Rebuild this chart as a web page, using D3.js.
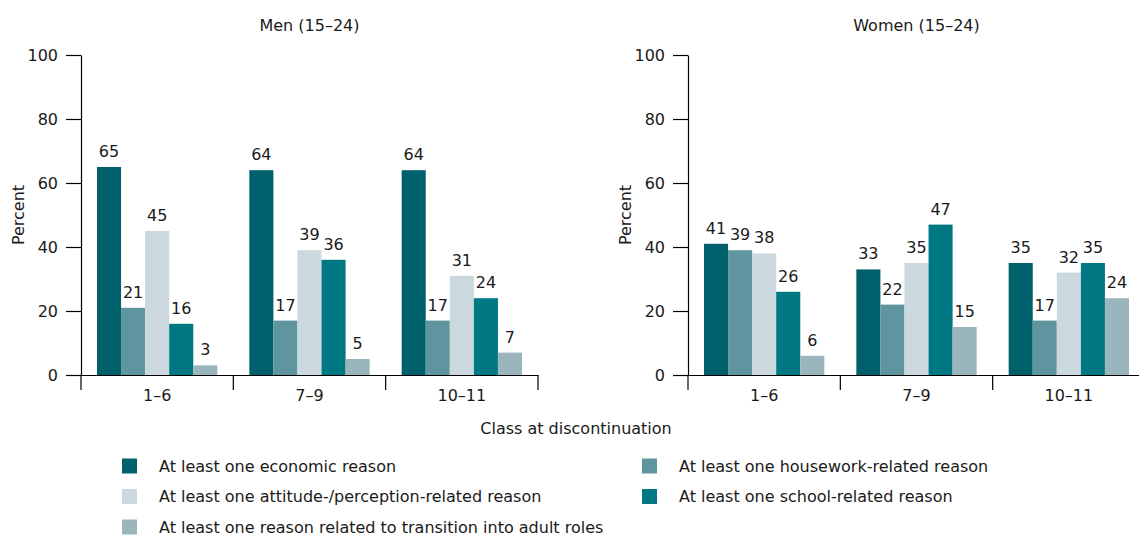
<!DOCTYPE html>
<html><head><meta charset="utf-8">
<script src="https://cdn.jsdelivr.net/npm/d3@7"></script>
<style>
body{margin:0;background:#fff;}
text{font-family:"DejaVu Sans",sans-serif;fill:#1a1a1a;}
</style></head>
<body><svg id="chart" width="1139" height="537"></svg>
<script>
const categories = ["1–6", "7–9", "10–11"];
const seriesNames = [
  "At least one economic reason",
  "At least one housework-related reason",
  "At least one attitude-/perception-related reason",
  "At least one school-related reason",
  "At least one reason related to transition into adult roles"
];
const seriesColors = ["#00606c", "#5e959f", "#cbd9de", "#007883", "#9bb5bc"];
const yTicks = [0, 20, 40, 60, 80, 100];

const menEconomic = [65, 64, 64];
const menHousework = [21, 17, 17];
const menAttitude = [45, 39, 31];
const menSchool = [16, 36, 24];
const menTransition = [3, 5, 7];

const womenEconomic = [41, 33, 35];
const womenHousework = [39, 22, 17];
const womenAttitude = [38, 35, 32];
const womenSchool = [26, 47, 35];
const womenTransition = [6, 15, 24];

const panels = [
  {title: "Men (15–24)", x: 81, values: [menEconomic, menHousework, menAttitude, menSchool, menTransition]},
  {title: "Women (15–24)", x: 688, values: [womenEconomic, womenHousework, womenAttitude, womenSchool, womenTransition]}
];

const svg = d3.select("#chart");
svg.append("rect").attr("width",1139).attr("height",537).attr("fill","#fff");

const plotTop = 55, plotBottom = 375, pw = 457;
const fs = 16;
const y = d3.scaleLinear().domain([0,100]).range([plotBottom, plotTop]);

panels.forEach(p => {
  const g = svg.append("g").attr("transform", `translate(${p.x},0)`);
  const x0 = d3.scaleBand().domain(categories).range([0, pw]).padding(0);
  const x1 = d3.scaleBand().domain(d3.range(seriesNames.length)).range([16, x0.bandwidth()-16]).padding(0);

  g.append("text").attr("x", pw/2).attr("y", 31).attr("text-anchor","middle")
    .attr("font-size", fs).text(p.title);

  const ya = g.append("g").call(d3.axisLeft(y).tickValues(yTicks).tickSize(15).tickSizeOuter(0).tickPadding(8));
  ya.selectAll("text").attr("font-size", fs).attr("font-family","DejaVu Sans").attr("fill","#1a1a1a");
  ya.selectAll("line,path").attr("stroke","#000").attr("stroke-width",1.2);

  g.append("text").attr("transform", `translate(-57,${(plotTop+plotBottom)/2}) rotate(-90)`)
    .attr("text-anchor","middle").attr("font-size", fs).text("Percent");

  categories.forEach((c, ci) => {
    p.values.forEach((vals, si) => {
      const v = vals[ci];
      const bx = x0(c) + x1(si);
      g.append("rect").attr("x", bx).attr("y", y(v)).attr("width", x1.bandwidth())
        .attr("height", y(0) - y(v)).attr("fill", seriesColors[si]);
      g.append("text").attr("x", bx + x1.bandwidth()/2).attr("y", y(v) - 10)
        .attr("text-anchor","middle").attr("font-size", fs).text(v);
    });
  });

  const xa = g.append("g").attr("transform", `translate(0,${plotBottom})`)
    .call(d3.axisBottom(x0).tickSize(0).tickSizeOuter(0).tickPadding(15));
  xa.selectAll("text").attr("font-size", fs).attr("font-family","DejaVu Sans").attr("fill","#1a1a1a");
  xa.select("path").attr("stroke","#000").attr("stroke-width",1.2);
  const bounds = categories.map(c => x0(c)).concat([pw]);
  g.selectAll(".sep").data(bounds).enter().append("line")
    .attr("x1", d => d).attr("x2", d => d).attr("y1", plotBottom).attr("y2", plotBottom + 15)
    .attr("stroke","#000").attr("stroke-width",1.2);
});

svg.append("text").attr("x", 576).attr("y", 434).attr("text-anchor","middle")
  .attr("font-size", fs).text("Class at discontinuation");

const legPos = [[122,466],[642,466],[122,496.5],[642,496.5],[122,527]];
seriesNames.forEach((s, i) => {
  const [lx, ly] = legPos[i];
  svg.append("rect").attr("x", lx).attr("y", ly - 7.5).attr("width", 15).attr("height", 15)
    .attr("fill", seriesColors[i]);
  svg.append("text").attr("x", lx + 37).attr("y", ly + 5.5).attr("font-size", fs).text(s);
});
</script></body></html>
